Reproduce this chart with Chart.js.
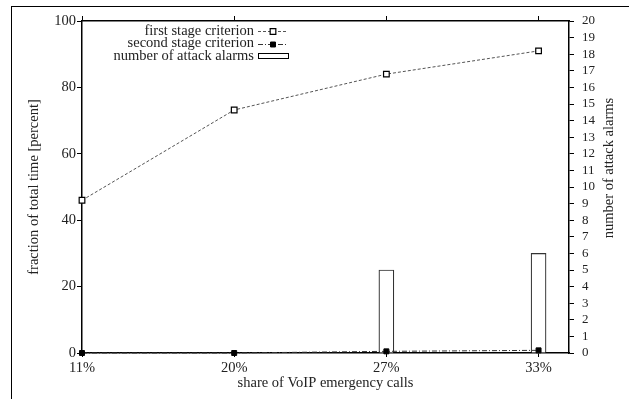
<!DOCTYPE html>
<html><head><meta charset="utf-8">
<script src="https://cdn.jsdelivr.net/npm/chart.js@4.4.0/dist/chart.umd.min.js"></script>
<style>html,body{margin:0;padding:0;background:#fff;}</style>
</head><body>
<canvas id="c" width="629" height="399" style="display:block;width:629px;height:399px"></canvas>
<script>
const categories = ['11%', '20%', '27%', '33%'];
const firstStage = [46, 73.2, 84, 91];
const secondStage = [0, 0, 0.5, 0.8];
const attackAlarms = [0, 0, 5, 6];
const seriesLabels = ['first stage criterion', 'second stage criterion', 'number of attack alarms'];
const xTitle = 'share of VoIP emergency calls';
const yTitle = 'fraction of total time [percent]';
const y2Title = 'number of attack alarms';

const FONT = '"Liberation Serif", "Times New Roman", serif';
const pts = arr => arr.map((v, i) => ({x: i, y: v}));
const catTicks = s => { s.ticks = categories.map((c, i) => ({value: i})); };

const framePlugin = {
  id: 'frame',
  beforeDraw(chart) {
    const ctx = chart.ctx;
    ctx.save();
    ctx.fillStyle = '#fff';
    ctx.fillRect(0, 0, chart.width, chart.height);
    ctx.strokeStyle = '#000';
    ctx.lineWidth = 1;
    ctx.strokeRect(11.5, 6.5, 1000, 1000);
    ctx.restore();
  }
};

const extrasPlugin = {
  id: 'extras',
  afterDraw(chart) {
    const ctx = chart.ctx;
    ctx.save();
    ctx.font = '14.5px ' + FONT;
    ctx.fillStyle = '#222';
    ctx.textAlign = 'center';
    ctx.textBaseline = 'middle';
    ctx.translate(609, 168);
    ctx.rotate(-Math.PI / 2);
    ctx.fillText(y2Title, 0, 0);
    ctx.restore();

    ctx.save();
    ctx.font = '14.5px ' + FONT;
    ctx.textAlign = 'right';
    ctx.textBaseline = 'middle';
    const rows = [31, 43.5, 56];
    const tx = 254, sx0 = 258, sx1 = 288, mx = 273;
    chart.data.datasets.forEach((ds, i) => {
      const y = rows[i];
      ctx.fillStyle = '#222';
      ctx.fillText(ds.label, tx, y);
      if (ds.type === 'bar') {
        ctx.fillStyle = '#fff';
        ctx.strokeStyle = '#000';
        ctx.lineWidth = 1;
        ctx.fillRect(sx0, y - 2, 30, 5);
        ctx.strokeRect(sx0 + 0.5, y - 2.5, 30, 5);
      } else {
        ctx.setLineDash(ds.borderDash);
        ctx.strokeStyle = ds.borderColor;
        ctx.lineWidth = ds.borderWidth;
        ctx.beginPath();
        ctx.moveTo(sx0, Math.round(y) + 0.5);
        ctx.lineTo(sx1, Math.round(y) + 0.5);
        ctx.stroke();
        ctx.setLineDash([]);
        ctx.fillStyle = ds.pointBackgroundColor;
        ctx.strokeStyle = ds.pointBorderColor;
        ctx.lineWidth = ds.pointBorderWidth;
        Chart.helpers.drawPoint(ctx, {pointStyle: 'rect', radius: ds.pointRadius, borderWidth: ds.pointBorderWidth, rotation: 0}, mx, Math.round(y) + 0.5);
      }
    });
    ctx.restore();
  }
};

const tickFont = {family: FONT, size: 14.5};

new Chart(document.getElementById('c'), {
  data: {
    datasets: [
      {
        type: 'line', label: seriesLabels[0], data: pts(firstStage), yAxisID: 'y', xAxisID: 'x',
        borderColor: '#555', borderWidth: 1, borderDash: [3, 2],
        pointStyle: 'rect', pointRadius: 4, pointBorderWidth: 1.2,
        pointBackgroundColor: '#fff', pointBorderColor: '#000',
        clip: false, order: 1
      },
      {
        type: 'line', label: seriesLabels[1], data: pts(secondStage), yAxisID: 'y', xAxisID: 'x',
        borderColor: '#333', borderWidth: 1, borderDash: [5, 2, 1, 2],
        pointStyle: 'rect', pointRadius: 3.5, pointBorderWidth: 1,
        pointBackgroundColor: '#000', pointBorderColor: '#000',
        clip: false, order: 2
      },
      {
        type: 'bar', label: seriesLabels[2], data: pts(attackAlarms), yAxisID: 'y2', xAxisID: 'x',
        backgroundColor: '#fff', borderColor: '#333', borderWidth: 1.2,
        barThickness: 15, order: 3
      }
    ]
  },
  options: {
    responsive: false,
    animation: false,
    devicePixelRatio: 1,
    layout: {padding: {top: 21, left: 0, right: 0, bottom: 0}},
    plugins: {legend: {display: false}, tooltip: {enabled: false}},
    scales: {
      x: {
        type: 'linear', position: 'bottom', min: 0, max: 3.2, offset: false,
        afterBuildTicks: catTicks,
        afterFit: s => { s.height = 46; },
        ticks: {autoSkip: false, maxRotation: 0, padding: 2, color: '#222', font: tickFont,
                callback: v => categories[v] ?? ''},
        grid: {drawOnChartArea: false, tickLength: 4, color: '#000', tickWidth: 1, offset: false},
        border: {display: true, color: '#000', width: 1.5},
        title: {display: true, text: xTitle, color: '#222', font: tickFont, padding: {top: 0, bottom: 7}}
      },
      xTop: {
        type: 'linear', position: 'top', min: 0, max: 3.2, offset: false,
        afterBuildTicks: catTicks,
        afterFit: s => { s.height = 0; },
        ticks: {display: false},
        grid: {drawOnChartArea: false, tickLength: 5, color: '#000', tickWidth: 1, offset: false},
        border: {display: true, color: '#000', width: 1.5}
      },
      y: {
        type: 'linear', position: 'left', min: 0, max: 100,
        afterFit: s => { s.width = 82; },
        ticks: {stepSize: 20, padding: 1, color: '#222', font: tickFont},
        grid: {drawOnChartArea: false, tickLength: 5, color: '#000', tickWidth: 1},
        border: {display: true, color: '#000', width: 1.5},
        title: {display: true, text: yTitle, color: '#222', font: tickFont, padding: {top: 25, bottom: 0}}
      },
      y2: {
        type: 'linear', position: 'right', min: 0, max: 20,
        afterFit: s => { s.width = 60; },
        ticks: {stepSize: 1, autoSkip: false, padding: 8, color: '#222', font: {family: FONT, size: 13}},
        grid: {drawOnChartArea: false, tickLength: 5, color: '#000', tickWidth: 1},
        border: {display: true, color: '#000', width: 1.5}
      }
    }
  },
  plugins: [framePlugin, extrasPlugin]
});
</script>
</body></html>
